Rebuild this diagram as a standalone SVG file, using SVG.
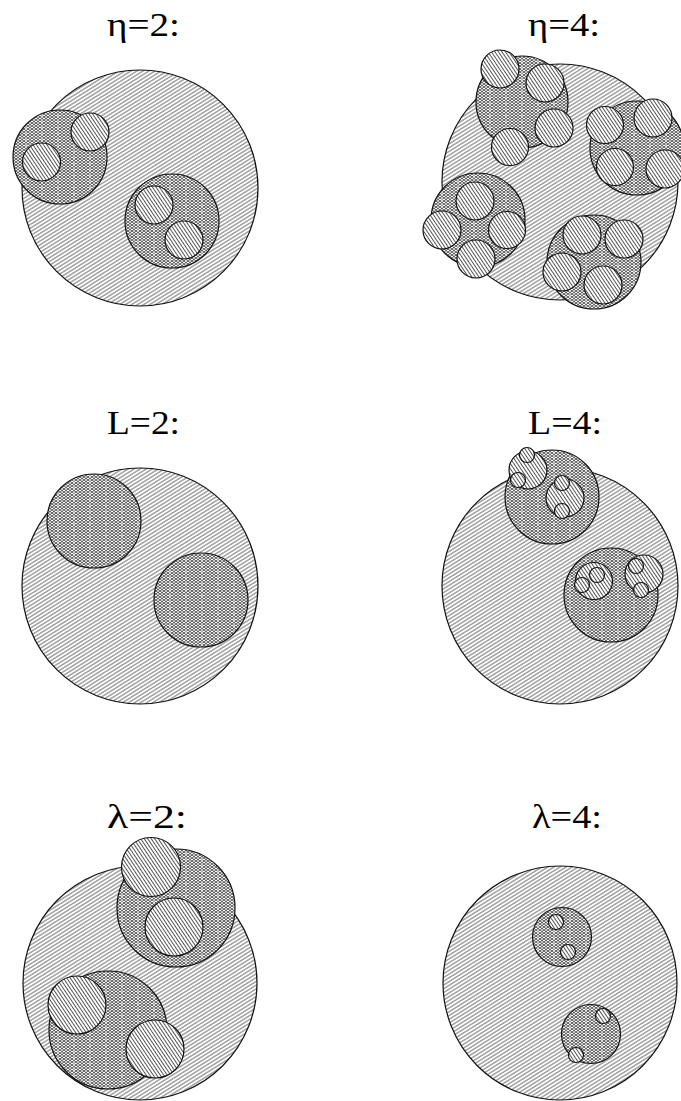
<svg xmlns="http://www.w3.org/2000/svg" width="681" height="1101" viewBox="0 0 681 1101">
<defs>
<pattern id="pBig" width="6" height="3.2" patternUnits="userSpaceOnUse" patternTransform="rotate(-32)">
<rect width="6" height="3.2" fill="#fff"/>
<line x1="0" y1="1.6" x2="6" y2="1.6" stroke="#2a2a2a" stroke-width="0.75"/>
</pattern>
<pattern id="pSmall" width="6" height="2.9" patternUnits="userSpaceOnUse" patternTransform="rotate(56)">
<rect width="6" height="2.9" fill="#fff"/>
<line x1="0" y1="1.45" x2="6" y2="1.45" stroke="#2a2a2a" stroke-width="0.8"/>
</pattern>
<pattern id="pMed" width="16" height="6" patternUnits="userSpaceOnUse">
<rect width="16" height="6" fill="#fff"/>
<path d="M0,0 L4,3 L8,0 L12,3 L16,0 M0,3 L4,0 L8,3 L12,0 L16,3 M0,3 L4,6 L8,3 L12,6 L16,3 M0,6 L4,3 L8,6 L12,3 L16,6" stroke="#2a2a2a" stroke-width="0.75" fill="none"/>
<line x1="10" y1="1" x2="10" y2="3.5" stroke="#fff" stroke-width="0.9"/>
</pattern>
</defs>
<style>
.big{fill:url(#pBig);stroke:#111;stroke-width:1.2}
.med{fill:url(#pMed);stroke:#111;stroke-width:1.2}
.sm{fill:url(#pSmall);stroke:#111;stroke-width:1.2}
.lbl{font-family:"Liberation Serif","DejaVu Serif",serif;font-size:34px;fill:#000}
</style>

<g id="eta2">
<text class="lbl" x="107" y="36" textLength="73" lengthAdjust="spacingAndGlyphs">η=2:</text>
<circle class="big" cx="140" cy="188" r="118"/>
<circle class="med" cx="60" cy="157" r="47"/>
<circle class="sm" cx="41.5" cy="162" r="19"/>
<circle class="sm" cx="90" cy="132" r="19"/>
<circle class="med" cx="172" cy="221" r="47"/>
<circle class="sm" cx="154" cy="205" r="19"/>
<circle class="sm" cx="184" cy="240" r="19"/>
</g>

<g id="eta4">
<text class="lbl" x="528" y="36" textLength="72" lengthAdjust="spacingAndGlyphs">η=4:</text>
<circle class="big" cx="560" cy="182" r="118"/>
<circle class="med" cx="522" cy="102" r="46"/>
<circle class="sm" cx="500" cy="69" r="19"/>
<circle class="sm" cx="545" cy="83" r="19"/>
<circle class="sm" cx="554" cy="128" r="19"/>
<circle class="sm" cx="510" cy="147" r="18.5"/>
<circle class="med" cx="637" cy="148" r="47"/>
<circle class="sm" cx="605" cy="125" r="18.5"/>
<circle class="sm" cx="653" cy="118" r="19"/>
<circle class="sm" cx="615" cy="167" r="18.5"/>
<circle class="sm" cx="665" cy="169" r="19"/>
<circle class="med" cx="478" cy="220" r="47"/>
<circle class="sm" cx="475" cy="201" r="19"/>
<circle class="sm" cx="442" cy="230" r="19"/>
<circle class="sm" cx="507" cy="230" r="18.5"/>
<circle class="sm" cx="476" cy="259" r="19"/>
<circle class="med" cx="594" cy="262" r="47"/>
<circle class="sm" cx="582" cy="235" r="19"/>
<circle class="sm" cx="624" cy="239" r="19"/>
<circle class="sm" cx="562" cy="272" r="19"/>
<circle class="sm" cx="603" cy="285" r="19"/>
</g>

<g id="L2">
<text class="lbl" x="107" y="434" textLength="73" lengthAdjust="spacingAndGlyphs">L=2:</text>
<circle class="big" cx="140" cy="586" r="118"/>
<circle class="med" cx="94" cy="521" r="47"/>
<circle class="med" cx="201" cy="600" r="47"/>
</g>

<g id="L4">
<text class="lbl" x="528" y="434" textLength="74" lengthAdjust="spacingAndGlyphs">L=4:</text>
<circle class="big" cx="560" cy="586" r="118"/>
<circle class="med" cx="552" cy="497" r="47"/>
<circle class="sm" cx="528" cy="470" r="19"/>
<circle class="sm" cx="527" cy="455" r="7.5"/>
<circle class="sm" cx="518" cy="480" r="7.5"/>
<circle class="sm" cx="565" cy="498" r="19"/>
<circle class="sm" cx="562" cy="483" r="7.5"/>
<circle class="sm" cx="562" cy="511" r="7.5"/>
<circle class="med" cx="611" cy="595" r="47"/>
<circle class="sm" cx="594" cy="581" r="18.5"/>
<circle class="sm" cx="597" cy="575" r="7.5"/>
<circle class="sm" cx="582" cy="585" r="7.5"/>
<circle class="sm" cx="644" cy="574" r="19"/>
<circle class="sm" cx="636" cy="566" r="7.5"/>
<circle class="sm" cx="641" cy="590" r="7.5"/>
</g>

<g id="lambda2">
<text class="lbl" x="107" y="828" textLength="80" lengthAdjust="spacingAndGlyphs">λ=2:</text>
<circle class="big" cx="140" cy="983" r="117"/>
<circle class="med" cx="176" cy="908" r="59"/>
<circle class="sm" cx="151" cy="867" r="29.5"/>
<circle class="sm" cx="174" cy="927" r="29"/>
<circle class="med" cx="108" cy="1030" r="59"/>
<circle class="sm" cx="77" cy="1005" r="29"/>
<circle class="sm" cx="155" cy="1049" r="29"/>
</g>

<g id="lambda4">
<text class="lbl" x="532" y="828" textLength="70" lengthAdjust="spacingAndGlyphs">λ=4:</text>
<circle class="big" cx="560" cy="983" r="117"/>
<circle class="med" cx="562" cy="937" r="29.5"/>
<circle class="sm" cx="556" cy="922" r="7.5"/>
<circle class="sm" cx="568" cy="952" r="7.5"/>
<circle class="med" cx="591" cy="1034" r="29.5"/>
<circle class="sm" cx="603" cy="1016" r="7.5"/>
<circle class="sm" cx="576" cy="1055" r="7.5"/>
</g>

<g id="connectors"/>
</svg>
